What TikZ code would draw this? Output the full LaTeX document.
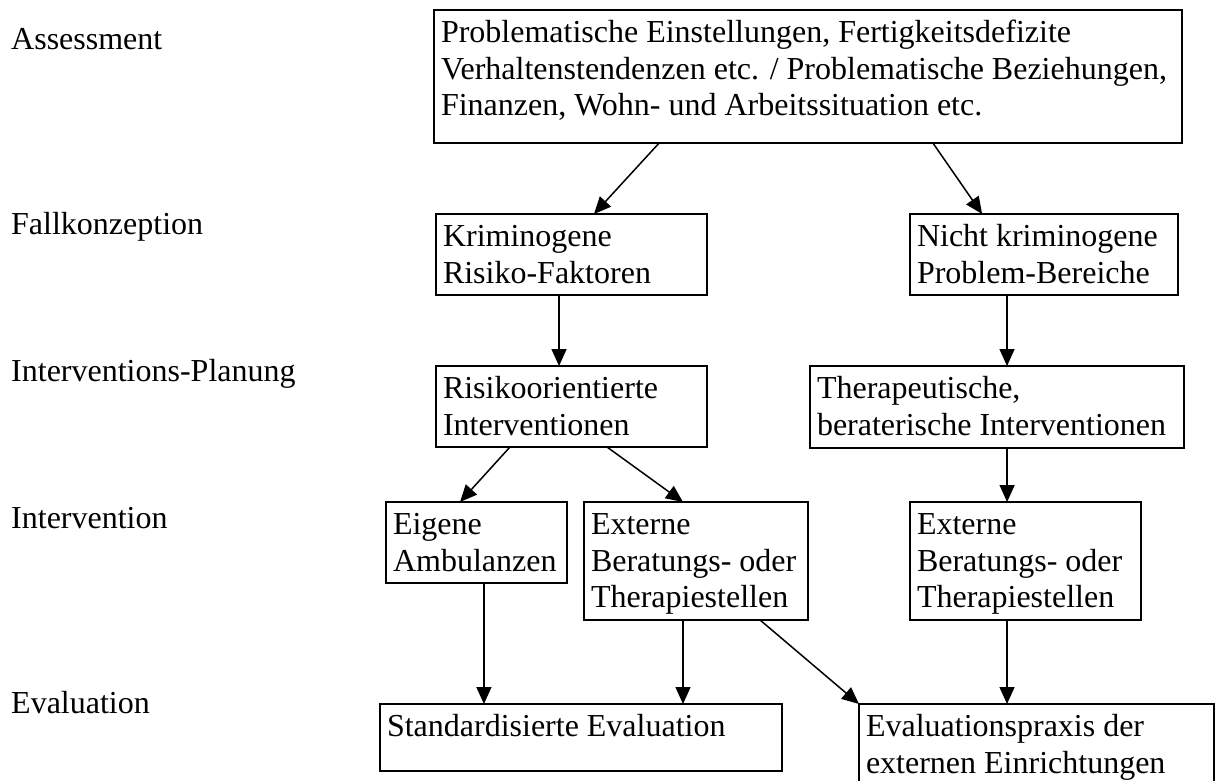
\documentclass[tikz,border=0pt]{standalone}
\usepackage{fontspec}
\setmainfont{Liberation Serif}
\usetikzlibrary{arrows.meta,calc}

% text block of fixed size, set at the top left
\newcommand{\boxlines}[3]{\parbox[t][#2][t]{#1}{\leftskip=7pt\rightskip=-200pt plus 1fil\parfillskip=0pt plus 1fil\hbadness=10000\rule{0pt}{32.5pt}#3}}

\tikzset{
    phase/.style={anchor=base west, inner sep=0pt},
    stage/.style={draw, line width=2.2pt, anchor=north west, inner sep=0pt, outer sep=0pt},
    arr/.style={-{Triangle[length=17pt,width=15pt]}, line width=1.5pt}
}

\begin{document}
\begin{tikzpicture}[x=1pt, y=-1pt, every node/.style={font=\fontsize{32}{36.5}\selectfont}]
    \useasboundingbox (0,0) rectangle (1216,780);

    % Phases
    \node[phase] (assess) at (11,49) {Assessment};
    \node[phase] (fall) at (11,234) {Fallkonzeption};
    \node[phase] (plan) at (11,381) {Interventions-Planung};
    \node[phase] (interv) at (11,528) {Intervention};
    \node[phase] (evalph) at (11,713) {Evaluation};

    % Assessment
    \node[stage] (prob) at (434,10) {\boxlines{748pt}{133pt}{Problematische Einstellungen, Fertigkeitsdefizite\\Verhaltenstendenzen etc. / Problematische Beziehungen,\\Finanzen, Wohn- und Arbeitssituation etc.}};

    % Fallkonzeption
    \node[stage] (krim) at (436,214) {\boxlines{271pt}{81pt}{Kriminogene\\Risiko-Faktoren}};
    \node[stage] (nicht) at (910,214) {\boxlines{268pt}{81pt}{Nicht kriminogene\\Problem-Bereiche}};

    % Interventions-Planung
    \node[stage] (risiko) at (436,366) {\boxlines{271pt}{81pt}{Risikoorientierte\\Interventionen}};
    \node[stage] (thera) at (810,366) {\boxlines{374pt}{82pt}{Therapeutische,\\beraterische Interventionen}};

    % Intervention
    \node[stage] (eigen) at (386,502) {\boxlines{181pt}{81pt}{Eigene\\Ambulanzen}};
    \node[stage] (extA) at (584,502) {\boxlines{224pt}{118pt}{Externe\\Beratungs- oder\\Therapiestellen}};
    \node[stage] (extB) at (910,502) {\boxlines{231pt}{118pt}{Externe\\Beratungs- oder\\Therapiestellen}};

    % Evaluation
    \node[stage] (std) at (380,704) {\boxlines{402pt}{67pt}{Standardisierte Evaluation}};
    \node[stage] (praxis) at (859,704) {\boxlines{355pt}{100pt}{Evaluationspraxis der\\externen Einrichtungen}};

    % Arrows
    \draw[arr] ($(prob.south west)!0.301!(prob.south east)$) -- ($(krim.north west)!0.583!(krim.north east)$);
    \draw[arr] ($(prob.south west)!0.667!(prob.south east)$) -- ($(nicht.north west)!0.269!(nicht.north east)$);
    \draw[arr] ($(krim.south west)!0.454!(krim.south east)$) coordinate (k) -- (k |- risiko.north);
    \draw[arr] ($(nicht.south west)!0.362!(nicht.south east)$) coordinate (n) -- (n |- thera.north);
    \draw[arr] ($(risiko.south west)!0.273!(risiko.south east)$) -- ($(eigen.north west)!0.409!(eigen.north east)$);
    \draw[arr] ($(risiko.south west)!0.631!(risiko.south east)$) -- ($(extA.north west)!0.442!(extA.north east)$);
    \draw[arr] ($(thera.south west)!0.527!(thera.south east)$) coordinate (t) -- (t |- extB.north);
    \draw[arr] ($(eigen.south west)!0.541!(eigen.south east)$) coordinate (e) -- (e |- std.north);
    \draw[arr] ($(extA.south west)!0.442!(extA.south east)$) coordinate (a) -- (a |- std.north);
    \draw[arr] ($(extA.south west)!0.786!(extA.south east)$) -- (praxis.north west);
    \draw[arr] ($(extB.south west)!0.42!(extB.south east)$) coordinate (b) -- (b |- praxis.north);
\end{tikzpicture}
\end{document}
